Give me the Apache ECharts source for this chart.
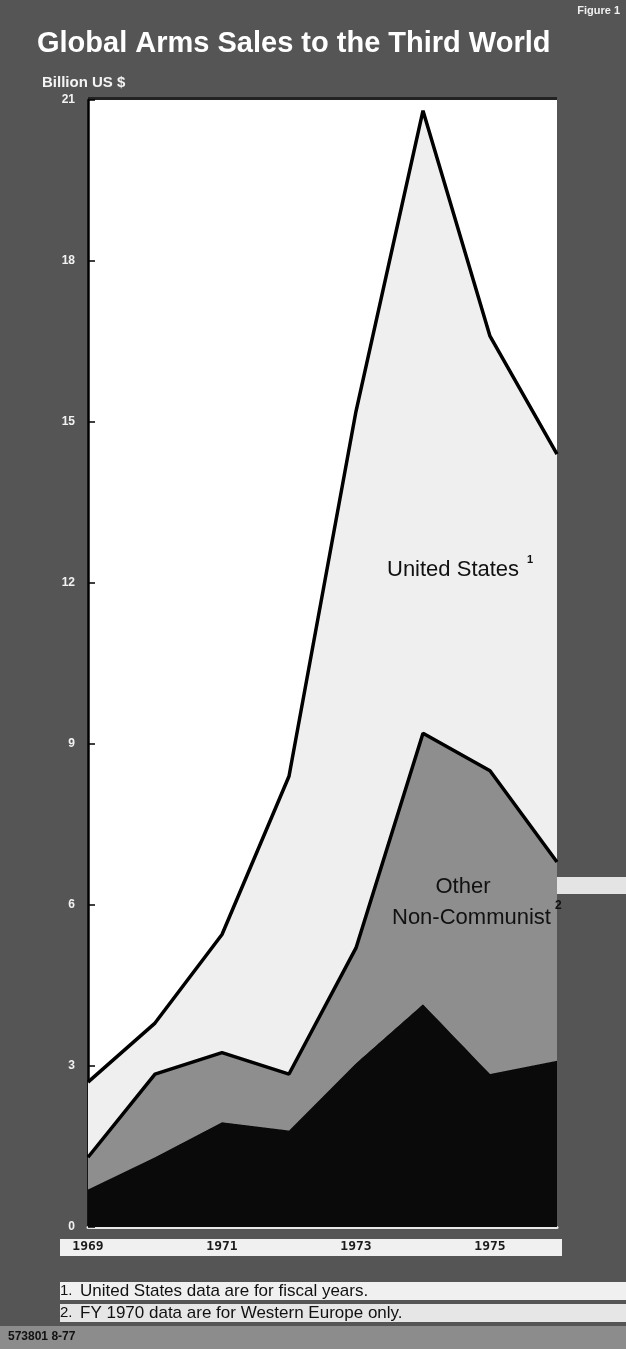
<!DOCTYPE html>
<html><head><meta charset="utf-8">
<script src="https://cdn.jsdelivr.net/npm/echarts@6/dist/echarts.min.js"></script>
<style>html,body{margin:0;padding:0;background:#575757;}#c{width:626px;height:1349px;}</style>
</head><body><div id="c"></div>
<script>
// ---- data (billion US $) ----
const years = ['1969','1970','1971','1972','1973','1974','1975','1976'];
const communist = [0.7, 1.3, 1.95, 1.8, 3.05, 4.15, 2.85, 3.1];
const otherNonCommunist = [0.6, 1.55, 1.3, 1.05, 2.15, 5.05, 5.65, 3.7];
const unitedStates = [1.4, 0.95, 2.2, 5.55, 10.0, 11.6, 8.1, 7.6];
const yMin = 0, yMax = 21, yStep = 3;

const chart = echarts.init(document.getElementById('c'), null, {renderer:'canvas'});
const sans = 'Liberation Sans, Arial, sans-serif';
function txt(x, y, text, font, fill, align, va) {
  return {type:'text', x:x, y:y, z:10, style:{text:text, font:font, fill:fill, align:align||'left', verticalAlign:va||'middle'}};
}
function band(x, y, w, h, fill) {
  return {type:'rect', shape:{x:x, y:y, width:w, height:h}, z:0, style:{fill:fill}};
}
chart.setOption({
  backgroundColor:'#555555',
  animation:false,
  grid:{left:88, right:69, top:100, bottom:122, show:true, backgroundColor:'#ffffff', borderWidth:0},
  xAxis:{
    type:'category', data:years, boundaryGap:false,
    axisLine:{show:true, lineStyle:{color:'#e8e8e8', width:3}},
    axisTick:{show:false},
    axisLabel:{interval:1, margin:13, color:'#1a1a1a', fontFamily:'DejaVu Sans Mono, monospace', fontWeight:'bold', fontSize:13},
    splitLine:{show:false}
  },
  yAxis:{
    type:'value', min:yMin, max:yMax, interval:yStep,
    axisLine:{show:true, lineStyle:{color:'#000', width:2.5}},
    axisTick:{show:true, inside:true, length:7, lineStyle:{color:'#000', width:1.5}},
    axisLabel:{margin:13, color:'#f2f2f2', fontFamily:sans, fontWeight:'bold', fontSize:12, showMinLabel:true, showMaxLabel:true},
    splitLine:{show:false}
  },
  series:[
    {name:'Communist', type:'line', stack:'t', data:communist, symbol:'none', z:2,
      lineStyle:{width:1, color:'#0a0a0a'}, areaStyle:{color:'#0a0a0a', opacity:1}},
    {name:'Other Non-Communist', type:'line', stack:'t', data:otherNonCommunist, symbol:'none', z:4,
      lineStyle:{width:3.5, color:'#000'}, areaStyle:{color:'#8e8e8e', opacity:1}},
    {name:'United States', type:'line', stack:'t', data:unitedStates, symbol:'none', z:3,
      lineStyle:{width:3.5, color:'#000'}, areaStyle:{color:'#efefef', opacity:1}}
  ],
  graphic:[
    band(60, 1239, 502, 17, '#f0f0f0'),
    band(60, 1282, 566, 18, '#f0f0f0'),
    band(60, 1304, 566, 18, '#e6e6e6'),
    band(0, 1326, 626, 23, '#8c8c8c'),
    band(557, 877, 69, 17, '#e4e4e4'),
    band(88, 97, 469, 3, '#222222'),
    txt(37, 44, 'Global Arms Sales to the Third World', 'bold 29px ' + sans, '#ffffff'),
    txt(42, 83, 'Billion US $', 'bold 15px ' + sans, '#f4f4f4'),
    txt(620, 11, 'Figure 1', 'bold 11px ' + sans, '#f0f0f0', 'right'),
    txt(387, 570, 'United States', '22px ' + sans, '#111111'),
    txt(527, 560, '1', 'bold 11px ' + sans, '#111111'),
    txt(463, 887, 'Other', '22px ' + sans, '#111111', 'center'),
    txt(392, 918, 'Non-Communist', '22px ' + sans, '#111111'),
    txt(555, 906, '2', 'bold 12px ' + sans, '#111111'),
    txt(60, 1291, '1.', '15px ' + sans, '#111111'),
    txt(80, 1291, 'United States data are for fiscal years.', '17px ' + sans, '#111111'),
    txt(60, 1313, '2.', '15px ' + sans, '#111111'),
    txt(80, 1313, 'FY 1970 data are for Western Europe only.', '17px ' + sans, '#111111'),
    txt(8, 1337, '573801 8-77', 'bold 12px ' + sans, '#111111')
  ]
});
</script></body></html>
